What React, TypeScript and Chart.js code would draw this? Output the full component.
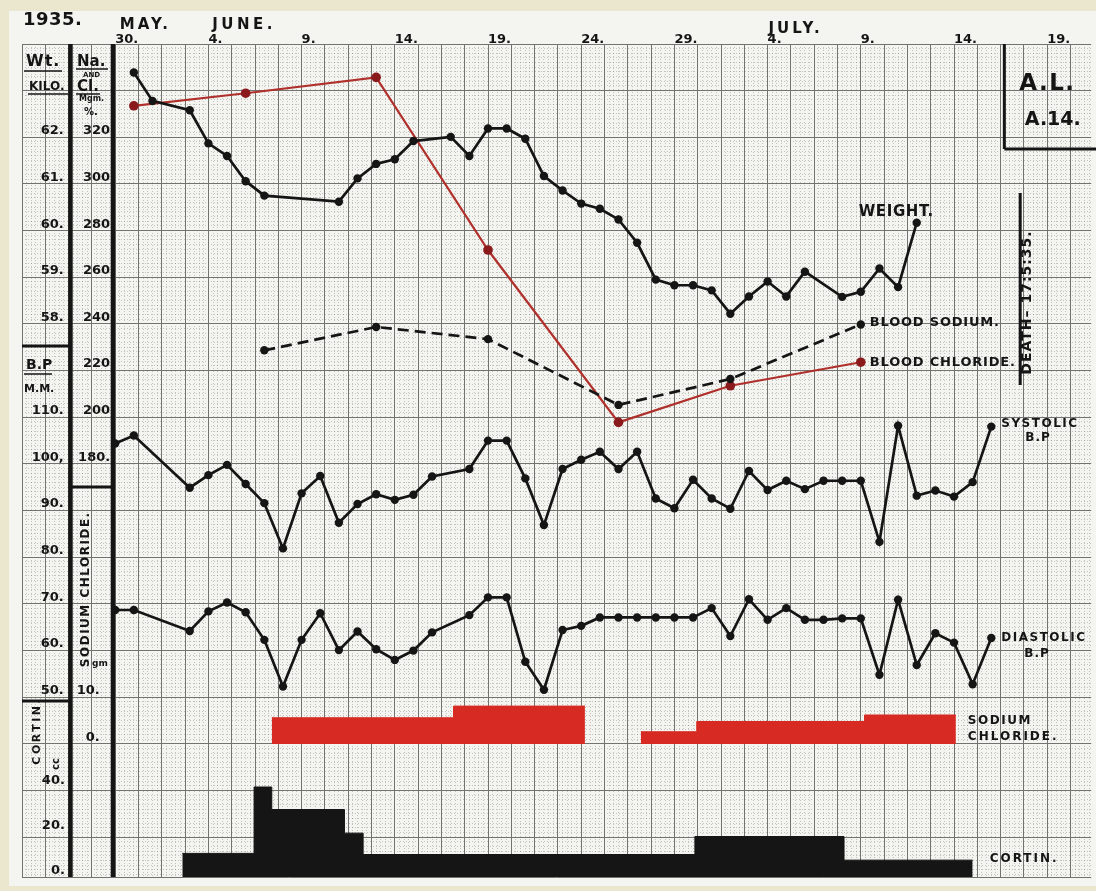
import React, { useEffect, useRef } from "react";
import { Chart, registerables } from "chart.js";

Chart.register(...registerables);

// ---------------- DATA ----------------
// x = days counted from 30 May 1935 (0 = May 30, 5 = June 4, 35 = July 4 ...)
const DATE_TICK_DAYS = [0, 5, 10, 15, 20, 25, 30, 35, 40, 45, 50];
const DATE_TICK_LABELS = ["30.", "4.", "9.", "14.", "19.", "24.", "29.", "4.", "9.", "14.", "19."];

const WEIGHT_TICKS = [62, 61, 60, 59, 58];
const WEIGHT_TICK_LABELS = ["62.", "61.", "60.", "59.", "58."];
const CHEM_TICKS = [320, 300, 280, 260, 240, 220, 200, 180];
const CHEM_TICK_LABELS = ["320", "300", "280", "260", "240", "220", "200", "180."];
const BP_TICKS = [110, 100, 90, 80, 70, 60, 50];
const BP_TICK_LABELS = ["110.", "100,", "90.", "80.", "70.", "60.", "50."];
const SALT_TICKS = [10, 0];
const SALT_TICK_LABELS = ["10.", "0."];
const CORTIN_TICKS = [40, 20, 0];
const CORTIN_TICK_LABELS = ["40.", "20.", "0."];

// Weight (kg)
const WEIGHT_DAYS = [1, 2, 4, 5, 6, 7, 8, 12, 13, 14, 15, 16, 18, 19, 20, 21, 22, 23, 24, 25, 26, 27, 28, 29, 30, 31, 32, 33, 34, 35, 36, 37, 39, 40, 41, 42, 43];
const WEIGHT_KG = [63.39, 62.78, 62.58, 61.87, 61.6, 61.06, 60.75, 60.62, 61.12, 61.43, 61.53, 61.92, 62.01, 61.6, 62.19, 62.19, 61.97, 61.17, 60.86, 60.58, 60.47, 60.24, 59.74, 58.95, 58.83, 58.83, 58.72, 58.22, 58.59, 58.91, 58.59, 59.12, 58.58, 58.69, 59.19, 58.79, 60.17];

// Blood sodium / chloride (mgm %)
const BLOOD_SODIUM_DAYS = [8, 14, 20, 27, 33, 40];
const BLOOD_SODIUM_MG = [228.7, 238.7, 233.5, 205.3, 216.4, 239.8];
const BLOOD_CHLORIDE_DAYS = [1, 7, 14, 20, 27, 33, 40];
const BLOOD_CHLORIDE_MG = [333.5, 338.9, 345.7, 271.7, 197.8, 213.5, 223.6];

// Blood pressure (mm Hg)
const BP_DAYS = [0, 1, 4, 5, 6, 7, 8, 9, 10, 11, 12, 13, 14, 15, 16, 17, 19, 20, 21, 22, 23, 24, 25, 26, 27, 28, 29, 30, 31, 32, 33, 34, 35, 36, 37, 38, 39, 40, 41, 42, 43, 44, 45, 46, 47];
const SYSTOLIC = [104.4, 106.1, 94.9, 97.6, 99.8, 95.7, 91.6, 81.9, 93.7, 97.4, 87.4, 91.4, 93.5, 92.3, 93.4, 97.3, 98.9, 105.0, 105.0, 96.9, 86.9, 98.9, 100.9, 102.6, 98.9, 102.6, 92.6, 90.5, 96.6, 92.6, 90.4, 98.5, 94.4, 96.4, 94.6, 96.4, 96.4, 96.4, 83.3, 108.2, 93.2, 94.3, 93.0, 96.1, 108.0];
const DIASTOLIC = [68.7, 68.7, 64.2, 68.4, 70.3, 68.2, 62.3, 52.3, 62.3, 68.0, 60.1, 64.1, 60.3, 58.0, 60.0, 63.9, 67.6, 71.4, 71.4, 57.6, 51.6, 64.4, 65.3, 67.1, 67.1, 67.1, 67.1, 67.1, 67.1, 69.1, 63.1, 71.0, 66.6, 69.1, 66.6, 66.6, 66.9, 66.9, 54.8, 70.9, 56.9, 63.7, 61.7, 52.8, 62.7];

// Sodium chloride given (gm / day), as steps
const SALT_START = [8.4, 18.15, 28.2, 31.2, 40.2];
const SALT_END = [18.15, 25.2, 31.2, 40.2, 45.1];
const SALT_GM = [5.6, 8.1, 2.6, 4.8, 6.2];

// Cortin given (cc / day), as steps
const CORTIN_START = [3.6, 7.45, 8.4, 12.3, 13.3, 31.1, 39.1];
const CORTIN_END = [7.45, 8.4, 12.3, 13.3, 31.1, 39.1, 46.0];
const CORTIN_CC = [10.5, 40, 30, 19.5, 10, 18, 7.5];

// ---------------- LAYOUT / STYLE ----------------
const X_MIN = -5;
const X_MAX = 52.36;
const ROWS = 833 / 46.66; // chart-area height in graph-paper rows
const FONT = "'DejaVu Sans', 'Liberation Sans', sans-serif";
const INK = "#151515";
const RED_BAR = "#d62a22";
const RED_LINE = "#b0302c";
const RED_DOT = "#8a1a1c";
const MAJOR_GRID = "#72726f";
const MINOR_GRID = "rgba(80,80,80,0.30)";

function seq(start: number, end: number, step: number) {
  const out: { value: number }[] = [];
  const n = Math.floor((end - start) / step + 1e-9);
  for (let k = 0; k <= n; k++) out.push({ value: +(start + k * step).toFixed(6) });
  return out;
}

function rangeFor(value: number, row: number, perRow: number) {
  return { min: value - (ROWS - row) * perRow, max: value + row * perRow };
}

function pts(xs: number[], ys: number[]) {
  return xs.map((x, i) => ({ x, y: ys[i] }));
}

function stepBlocks(starts: number[], ends: number[], vals: number[]) {
  const blocks: { x: number; y: number }[][] = [];
  let cur: { x: number; y: number }[] | null = null;
  for (let i = 0; i < starts.length; i++) {
    if (!cur || Math.abs(starts[i] - ends[i - 1]) > 1e-6) {
      cur = [];
      blocks.push(cur);
    }
    cur.push({ x: starts[i], y: vals[i] });
    if (i === starts.length - 1 || Math.abs(starts[i + 1] - ends[i]) > 1e-6) {
      cur.push({ x: ends[i], y: vals[i] });
    }
  }
  return blocks;
}

function labelAxis(xPos: number, range: { min: number; max: number }, ticks: number[], labels: string[]) {
  return {
    type: "linear",
    position: { x: xPos },
    min: range.min,
    max: range.max,
    grid: { display: false, drawTicks: false },
    border: { display: false },
    afterBuildTicks: (s: any) => {
      s.ticks = ticks.map((v) => ({ value: v }));
    },
    ticks: {
      autoSkip: false,
      padding: 0,
      labelOffset: -6.5,
      color: INK,
      font: { family: FONT, size: 13, weight: "bold" },
      callback: (v: number) => labels[ticks.indexOf(v)] ?? "",
    },
  };
}

function gridAxis(axis: "x" | "y", minor: boolean) {
  const isX = axis === "x";
  const min = isX ? X_MIN : 0;
  const max = isX ? X_MAX : ROWS;
  const step = isX ? (minor ? 0.25 : 1.25) : minor ? 0.1 : 1;
  return {
    type: "linear",
    position: isX ? "bottom" : "left",
    min,
    max,
    reverse: !isX,
    ticks: { display: false },
    grid: {
      color: minor ? MINOR_GRID : MAJOR_GRID,
      lineWidth: 1,
      drawTicks: false,
      z: minor ? -2 : -1,
    },
    border: { display: false, dash: minor ? [1, 2] : [] },
    afterBuildTicks: (s: any) => {
      const t = seq(min, max, step);
      if (!isX && !minor) t.push({ value: ROWS });
      s.ticks = t;
    },
    afterFit: (s: any) => {
      if (isX) s.height = 0;
      else s.width = 0;
    },
  };
}

const decorPlugin = {
  id: "decor",
  beforeDraw(chart: any) {
    const ctx = chart.ctx;
    ctx.save();
    ctx.fillStyle = "#ebe7cf";
    ctx.fillRect(0, 0, chart.width, chart.height);
    ctx.fillStyle = "#f4f4f0";
    ctx.fillRect(9, 11, chart.width - 9, chart.height - 16);
    ctx.restore();
  },
  beforeDatasetsDraw(chart: any) {
    const ctx = chart.ctx;
    const xs = chart.scales.x;
    const px = (d: number) => xs.getPixelForValue(d);
    const { top, bottom, left } = chart.chartArea;
    const line = (x1: number, y1: number, x2: number, y2: number, w: number) => {
      ctx.beginPath();
      ctx.moveTo(x1, y1);
      ctx.lineTo(x2, y2);
      ctx.lineWidth = w;
      ctx.stroke();
    };
    ctx.save();
    ctx.strokeStyle = INK;
    const c1 = px(-2.4);
    const c2 = px(-0.12);
    line(c1, top, c1, bottom, 4.5);
    line(c2, top, c2, bottom, 4.5);
    line(left, 346, c1, 346, 3);
    line(left, 701, c1, 701, 3);
    line(c1, 487, c2, 487, 3);
    // patient box
    const bx = px(47.7);
    line(bx, top, bx, 149, 3);
    line(bx, 149, chart.width, 149, 3);
    // death marker
    const dx = px(48.55);
    line(dx, 193, dx, 385, 3);
    ctx.restore();
  },
  afterDraw(chart: any) {
    const ctx = chart.ctx;
    const xs = chart.scales.x;
    const px = (d: number) => xs.getPixelForValue(d);
    ctx.save();
    ctx.fillStyle = INK;
    ctx.strokeStyle = INK;
    const T = (s: string, x: number, y: number, size: number, spacing = 0, align: CanvasTextAlign = "left") => {
      ctx.font = `bold ${size}px ${FONT}`;
      (ctx as any).letterSpacing = `${spacing}px`;
      ctx.textAlign = align;
      ctx.textBaseline = "middle";
      ctx.fillText(s, x, y);
      (ctx as any).letterSpacing = "0px";
    };
    const R = (s: string, cx: number, cy: number, size: number, spacing = 0) => {
      ctx.save();
      ctx.translate(cx, cy);
      ctx.rotate(-Math.PI / 2);
      T(s, spacing / 2, 0, size, spacing, "center");
      ctx.restore();
    };
    const U = (x1: number, x2: number, y: number) => {
      ctx.beginPath();
      ctx.moveTo(x1, y);
      ctx.lineTo(x2, y);
      ctx.lineWidth = 1.5;
      ctx.stroke();
    };

    // title row
    T("1935.", 23, 20, 18, 0.5);
    T("MAY.", px(0.25), 25, 15, 3);
    T("JUNE.", px(5.2), 25, 15, 3.5);
    T("JULY.", px(35.05), 29, 15, 3);

    // column headers
    T("Wt.", 26, 62, 16, 1);
    U(24, 62, 71);
    T("KILO.", 29, 87, 12);
    U(28, 68, 94);
    T("Na.", 77, 62, 15);
    U(76, 108, 69);
    T("AND", 83, 75, 7);
    T("Cl.", 77, 87, 15);
    U(76, 100, 94);
    T("Mgm.", 79, 99, 8);
    T("%.", 84, 112, 10);
    T("B.P", 26, 365, 14);
    U(24, 52, 374);
    T("M.M.", 24, 389, 11);
    R("SODIUM CHLORIDE.", 86, 590, 12, 1.5);
    T("gm", 92, 664, 9);
    R("CORTIN.", 37, 732, 11, 2.5);
    R("cc", 56, 764, 10);

    // patient box
    T("A.L.", px(48.5), 84, 23, 1.5);
    T("A.14.", px(48.8), 120, 19);
    R("DEATH\u2013 17:5:35.", px(48.95), 303, 14, 1);

    // series labels anchored to the series ends (last dataset carrying the label)
    const lastOf = (label: string) => {
      let idx = -1;
      chart.data.datasets.forEach((d: any, i: number) => {
        if (d.label === label) idx = i;
      });
      const meta = chart.getDatasetMeta(idx);
      const el = meta.data[meta.data.length - 1];
      return { x: el.x, y: el.y };
    };
    let p = lastOf("Weight");
    T("WEIGHT.", p.x - 58, p.y - 11, 15, 0.6);
    p = lastOf("Blood sodium");
    T("BLOOD SODIUM.", p.x + 9, p.y - 2, 13, 0.8);
    p = lastOf("Blood chloride");
    T("BLOOD CHLORIDE.", p.x + 9, p.y, 13, 0.8);
    p = lastOf("Systolic");
    T("SYSTOLIC", p.x + 10, p.y - 3, 12, 1.5);
    T("B.P", p.x + 34, p.y + 11, 12, 1);
    p = lastOf("Diastolic");
    T("DIASTOLIC", p.x + 10, p.y, 12, 1.5);
    T("B.P", p.x + 33, p.y + 16, 12, 1);
    p = lastOf("Sodium chloride");
    T("SODIUM", p.x + 12, p.y + 6, 12, 1.5);
    T("CHLORIDE.", p.x + 12, p.y + 22, 12, 2);
    p = lastOf("Cortin");
    T("CORTIN.", p.x + 17, chart.scales.yCortin.getPixelForValue(8), 12, 2);
    ctx.restore();
  },
};

export default function App() {
  const ref = useRef<HTMLCanvasElement>(null);
  useEffect(() => {
    document.body.style.margin = "0";
    const saltBlocks = stepBlocks(SALT_START, SALT_END, SALT_GM);
    const cortinBlocks = stepBlocks(CORTIN_START, CORTIN_END, CORTIN_CC);
    const lineStyle = (color: string, dot: string, r: number, w: number) => ({
      type: "line",
      xAxisID: "x",
      borderColor: color,
      backgroundColor: dot,
      pointBackgroundColor: dot,
      pointBorderColor: dot,
      pointRadius: r,
      pointBorderWidth: 0,
      borderWidth: w,
      tension: 0,
      fill: false,
      order: 1,
    });
    const datasets: any[] = [
      ...saltBlocks.map((b) => ({
        type: "line",
        label: "Sodium chloride",
        data: b,
        xAxisID: "x",
        yAxisID: "ySalt",
        stepped: true,
        fill: "origin",
        backgroundColor: RED_BAR,
        borderColor: RED_BAR,
        borderWidth: 1,
        pointRadius: 0,
        order: 10,
      })),
      ...cortinBlocks.map((b) => ({
        type: "line",
        label: "Cortin",
        data: b,
        xAxisID: "x",
        yAxisID: "yCortin",
        stepped: true,
        fill: "origin",
        backgroundColor: INK,
        borderColor: INK,
        borderWidth: 1,
        pointRadius: 0,
        order: 10,
      })),
      { ...lineStyle(INK, INK, 4.2, 2.7), label: "Weight", yAxisID: "yWt", data: pts(WEIGHT_DAYS, WEIGHT_KG) },
      { ...lineStyle(INK, INK, 4.2, 2.7), label: "Blood sodium", yAxisID: "yChem", borderDash: [11, 6], data: pts(BLOOD_SODIUM_DAYS, BLOOD_SODIUM_MG) },
      { ...lineStyle(RED_LINE, RED_DOT, 4.8, 2.2), label: "Blood chloride", yAxisID: "yChem", data: pts(BLOOD_CHLORIDE_DAYS, BLOOD_CHLORIDE_MG) },
      { ...lineStyle(INK, INK, 4.2, 2.7), label: "Systolic", yAxisID: "yBP", data: pts(BP_DAYS, SYSTOLIC) },
      { ...lineStyle(INK, INK, 4.2, 2.7), label: "Diastolic", yAxisID: "yBP", data: pts(BP_DAYS, DIASTOLIC) },
    ];

    const chart = new Chart(ref.current as HTMLCanvasElement, {
      type: "line",
      data: { datasets },
      plugins: [decorPlugin],
      options: {
        animation: false,
        responsive: false,
        devicePixelRatio: 1,
        events: [],
        layout: { padding: { left: 22, right: 2, top: 22, bottom: 14 } },
        plugins: { legend: { display: false }, tooltip: { enabled: false } },
        scales: {
          xMinor: gridAxis("x", true),
          yMinor: gridAxis("y", true),
          xMajor: gridAxis("x", false),
          yMajor: gridAxis("y", false),
          x: { type: "linear", display: false, min: X_MIN, max: X_MAX },
          xDate: {
            type: "linear",
            position: "top",
            min: X_MIN,
            max: X_MAX,
            grid: { display: false, drawTicks: false },
            border: { display: false },
            afterBuildTicks: (s: any) => {
              s.ticks = DATE_TICK_DAYS.map((v) => ({ value: v }));
            },
            afterFit: (s: any) => {
              s.height = 22;
            },
            ticks: {
              autoSkip: false,
              maxRotation: 0,
              minRotation: 0,
              align: "start",
              padding: -3,
              color: INK,
              font: { family: FONT, size: 13, weight: "bold" },
              callback: (v: number) => DATE_TICK_LABELS[DATE_TICK_DAYS.indexOf(v)] ?? "",
            },
          },
          yWt: labelAxis(-2.76, rangeFor(62, 2, 1), WEIGHT_TICKS, WEIGHT_TICK_LABELS),
          yBP: labelAxis(-2.76, rangeFor(110, 8, 10), BP_TICKS, BP_TICK_LABELS),
          yCortin: labelAxis(-2.7, { min: 0, max: ROWS * (46.66 / 2.25) }, CORTIN_TICKS, CORTIN_TICK_LABELS),
          yChem: labelAxis(-0.27, rangeFor(320, 2, 20), CHEM_TICKS, CHEM_TICK_LABELS),
          ySalt: labelAxis(-0.83, rangeFor(0, 15, 10), SALT_TICKS, SALT_TICK_LABELS),
        } as any,
      },
    } as any);
    return () => chart.destroy();
  }, []);
  return (
    <div style={{ position: "fixed", left: 0, top: 0, width: 1096, height: 891, background: "#ebe7cf" }}>
      <canvas ref={ref} width={1096} height={891} style={{ display: "block", width: 1096, height: 891 }} />
    </div>
  );
}
